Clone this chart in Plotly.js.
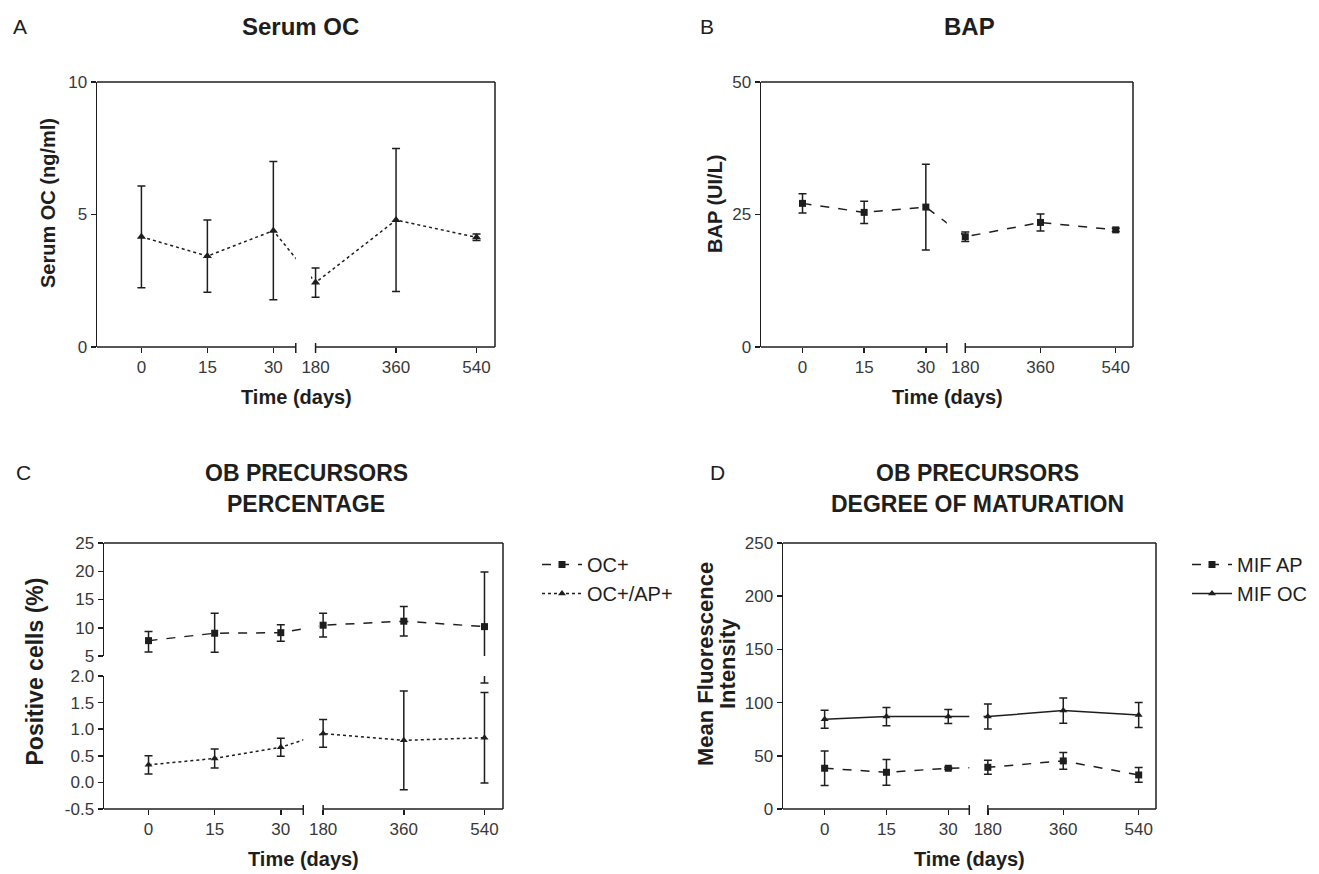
<!DOCTYPE html>
<html>
<head>
<meta charset="utf-8">
<script src="https://cdn.plot.ly/plotly-3.0.1.min.js"></script>
<style>
  html, body { margin: 0; padding: 0; background: #ffffff; }
  #chart { width: 1319px; height: 874px; }
</style>
</head>
<body>
<div id="chart"></div>
<script>
// ---------------- DATA ----------------
const days = [0, 15, 30, 180, 360, 540];
const dayLabels = ['0', '15', '30', '180', '360', '540'];

// Panel A : Serum OC (ng/ml)
const serumOC   = [4.16, 3.43, 4.39, 2.43, 4.79, 4.14];
const serumOCsd = [1.92, 1.36, 2.61, 0.55, 2.70, 0.12];

// Panel B : BAP (UI/L)
const bap   = [27.1, 25.4, 26.4, 20.8, 23.5, 22.1];
const bapSd = [1.8, 2.1, 8.1, 0.9, 1.6, 0.3];

// Panel C : OB precursors percentage
const ocPos       = [7.72, 9.03, 9.13, 10.45, 11.16, 10.2];
const ocPosSdUp   = [1.6, 3.55, 1.4, 2.1, 2.6, 9.65];
const ocPosSdDown = [2.0, 3.38, 1.5, 2.1, 2.6, 8.33];
const ocApPos     = [0.33, 0.45, 0.66, 0.92, 0.79, 0.84];
const ocApPosSd   = [0.17, 0.18, 0.17, 0.26, 0.93, 0.85];

// Panel D : OB precursors degree of maturation
const mifAP   = [38.3, 34.5, 38.3, 39.2, 45.2, 32.0];
const mifAPsd = [16.3, 12.1, 1.0, 6.6, 7.8, 6.9];
const mifOC   = [84.4, 86.9, 86.9, 86.9, 92.5, 88.4];
const mifOCsd = [8.5, 8.6, 6.5, 11.8, 11.8, 11.7];

// Tick labels
const yTicksA = [0, 5, 10];
const yTicksB = [0, 25, 50];
const yTicksCtop = [5, 10, 15, 20, 25];
const yTicksCbot = [-0.5, 0, 0.5, 1.0, 1.5, 2.0];
const yTicksCbotText = ['-0.5', '0.0', '0.5', '1.0', '1.5', '2.0'];
const yTicksD = [0, 50, 100, 150, 200, 250];

// ---------------- BROKEN TIME AXIS ----------------
// early days (0-30) on a linear scale, then a gap, then 180-540 compressed
const BRK = { gapStart: 35.1, gapEnd: 39.6, resume: 180, lateScale: 36.6 / 360, lo: -10.1, hi: 80.4, keep: 1.05 };
function brokenX(t) {
  return t < BRK.resume ? t : BRK.gapEnd + (t - BRK.resume) * BRK.lateScale;
}
const xPos = days.map(brokenX);

// ---------------- LAYOUT HELPERS ----------------
const W = 1319, H = 874;
const FONT = 'Liberation Sans, Arial, sans-serif';
const INK = '#1e1e1e';
const px = v => v / W;
const py = v => 1 - v / H;

const dom = {
  A:  { x: [px(97),  px(495)],  y: [py(347), py(82)] },
  B:  { x: [px(761), px(1133)], y: [py(347), py(82)] },
  Ct: { x: [px(104), px(503)],  y: [py(656), py(543)] },
  Cb: { x: [px(104), px(503)],  y: [py(809), py(676)] },
  D:  { x: [px(783), px(1156)], y: [py(809), py(543)] }
};

function xAxis(domain, anchor) {
  return {
    domain: domain, anchor: anchor, range: [BRK.lo, BRK.hi],
    showline: false, showgrid: false, zeroline: false,
    ticks: 'outside', ticklen: 5, tickwidth: 1.5, tickcolor: INK,
    tickmode: 'array', tickvals: xPos, ticktext: dayLabels,
    tickfont: { family: FONT, size: 17, color: '#383838' },
    fixedrange: true
  };
}
function yAxis(domain, anchor, range, tickvals, ticktext) {
  return {
    domain: domain, anchor: anchor, range: range,
    showline: true, linecolor: INK, linewidth: 1.5,
    showgrid: false, zeroline: false,
    ticks: 'outside', ticklen: 5, tickwidth: 1.5, tickcolor: INK,
    tickmode: 'array', tickvals: tickvals, ticktext: ticktext || tickvals.map(String),
    tickfont: { family: FONT, size: 17, color: '#383838' },
    fixedrange: true
  };
}

const LINE = { color: INK, width: 1.5 };
function frame(xr, yBot, yTopRef, yPaperBot, yPaperTop) {
  const xd = xr + ' domain';
  return [
    // blank the plotting area inside the axis break (leaving the 180-day marker intact)
    { type: 'rect', layer: 'above', xref: xr, x0: BRK.gapStart, x1: BRK.gapEnd - BRK.keep,
      yref: 'paper', y0: yPaperBot, y1: yPaperTop, fillcolor: '#ffffff', line: { width: 0 } },
    // bottom axis, two segments
    { type: 'line', layer: 'above', xref: xr, x0: BRK.lo, x1: BRK.gapStart,
      yref: yBot + ' domain', y0: 0, y1: 0, line: LINE },
    { type: 'line', layer: 'above', xref: xr, x0: BRK.gapEnd, x1: BRK.hi,
      yref: yBot + ' domain', y0: 0, y1: 0, line: LINE },
    // break end marks
    { type: 'line', layer: 'above', xref: xr, x0: BRK.gapStart, x1: BRK.gapStart,
      yref: yBot + ' domain', ysizemode: 'pixel', yanchor: 0, y0: -6, y1: 4, line: LINE },
    { type: 'line', layer: 'above', xref: xr, x0: BRK.gapEnd, x1: BRK.gapEnd,
      yref: yBot + ' domain', ysizemode: 'pixel', yanchor: 0, y0: -6, y1: 4, line: LINE },
    // top and right borders
    { type: 'line', layer: 'above', xref: xd, x0: 0, x1: 1,
      yref: yTopRef + ' domain', y0: 1, y1: 1, line: LINE },
    { type: 'line', layer: 'above', xref: xd, x0: 1, x1: 1,
      yref: 'paper', y0: yPaperBot, y1: yPaperTop, line: LINE }
  ];
}

function err(arr, minus) {
  const e = { type: 'data', array: arr, visible: true, color: INK, thickness: 1.5, width: 4 };
  if (minus) { e.symmetric = false; e.arrayminus = minus; }
  return e;
}

// ---------------- TRACES ----------------
const traces = [
  // A
  { x: xPos, y: serumOC, error_y: err(serumOCsd), mode: 'lines+markers',
    line: { color: INK, width: 1.5, dash: 'dot' },
    marker: { symbol: 'triangle-up', size: 8, color: INK },
    xaxis: 'x', yaxis: 'y', showlegend: false, name: 'Serum OC' },
  // B
  { x: xPos, y: bap, error_y: err(bapSd), mode: 'lines+markers',
    line: { color: INK, width: 1.5, dash: 'dash' },
    marker: { symbol: 'square', size: 7, color: INK },
    xaxis: 'x2', yaxis: 'y2', showlegend: false, name: 'BAP' },
  // C - OC+ (upper segment)
  { x: xPos, y: ocPos, error_y: err(ocPosSdUp, ocPosSdDown), mode: 'lines+markers',
    line: { color: INK, width: 1.5, dash: 'dash' },
    marker: { symbol: 'square', size: 7, color: INK },
    xaxis: 'x3', yaxis: 'y4', name: 'OC+', legend: 'legend' },
  // C - OC+ continued on lower segment (only its long error bar reaches it)
  { x: xPos, y: ocPos, error_y: err(ocPosSdUp, ocPosSdDown), mode: 'lines+markers',
    line: { color: INK, width: 1.5, dash: 'dash' },
    marker: { symbol: 'square', size: 7, color: INK },
    xaxis: 'x3', yaxis: 'y3', name: 'OC+', showlegend: false, hoverinfo: 'skip' },
  // C - OC+/AP+
  { x: xPos, y: ocApPos, error_y: err(ocApPosSd), mode: 'lines+markers',
    line: { color: INK, width: 1.5, dash: 'dot' },
    marker: { symbol: 'triangle-up', size: 7, color: INK },
    xaxis: 'x3', yaxis: 'y3', name: 'OC+/AP+', legend: 'legend' },
  // D - MIF AP
  { x: xPos, y: mifAP, error_y: err(mifAPsd), mode: 'lines+markers',
    line: { color: INK, width: 1.5, dash: 'dash' },
    marker: { symbol: 'square', size: 7, color: INK },
    xaxis: 'x4', yaxis: 'y5', name: 'MIF AP', legend: 'legend2' },
  // D - MIF OC
  { x: xPos, y: mifOC, error_y: err(mifOCsd), mode: 'lines+markers',
    line: { color: INK, width: 1.5, dash: 'solid' },
    marker: { symbol: 'triangle-up', size: 7, color: INK },
    xaxis: 'x4', yaxis: 'y5', name: 'MIF OC', legend: 'legend2' }
];

// ---------------- TEXT ----------------
function ann(text, x, y, size, opts) {
  const a = { xref: 'paper', yref: 'paper', x: px(x), y: py(y), xanchor: 'center', yanchor: 'middle',
              showarrow: false, text: text, font: { family: FONT, size: size, color: INK } };
  return Object.assign(a, opts || {});
}
const annotations = [
  ann('A', 20, 26, 21), ann('B', 707, 26, 21), ann('C', 23, 472, 21), ann('D', 717, 472, 21),
  ann('<b>Serum OC</b>', 300, 27, 24),
  ann('<b>BAP</b>', 969, 27, 24),
  ann('<b>OB PRECURSORS</b>', 306, 473, 23),
  ann('<b>PERCENTAGE</b>', 306, 504, 23),
  ann('<b>OB PRECURSORS</b>', 978, 473, 23),
  ann('<b>DEGREE OF MATURATION</b>', 978, 504, 23),
  ann('<b>Time (days)</b>', 296, 397, 20),
  ann('<b>Time (days)</b>', 947, 397, 20),
  ann('<b>Time (days)</b>', 303.5, 859, 20),
  ann('<b>Time (days)</b>', 969.5, 859, 20),
  ann('<b>Serum OC (ng/ml)</b>', 48, 203, 20, { textangle: -90 }),
  ann('<b>BAP (UI/L)</b>', 715, 204, 20, { textangle: -90 }),
  ann('<b>Positive cells (%)</b>', 34.5, 672, 23, { textangle: -90 }),
  ann('<b>Mean Fluorescence</b>', 705, 664, 22, { textangle: -90 }),
  ann('<b>Intensity</b>', 727, 664, 22, { textangle: -90 })
];

const legendStyle = {
  font: { family: FONT, size: 20, color: INK },
  bgcolor: 'rgba(0,0,0,0)', borderwidth: 0,
  xanchor: 'left', yanchor: 'top', itemwidth: 40,
  traceorder: 'normal', itemclick: false, itemdoubleclick: false
};

const layout = {
  width: W, height: H,
  margin: { l: 0, r: 0, t: 0, b: 0 },
  paper_bgcolor: '#ffffff', plot_bgcolor: '#ffffff',
  font: { family: FONT, color: INK },
  showlegend: true,
  legend:  Object.assign({ x: px(537), y: py(545) }, legendStyle),
  legend2: Object.assign({ x: px(1187), y: py(545) }, legendStyle),
  xaxis:  xAxis(dom.A.x, 'y'),
  yaxis:  yAxis(dom.A.y, 'x', [0, 10], yTicksA),
  xaxis2: xAxis(dom.B.x, 'y2'),
  yaxis2: yAxis(dom.B.y, 'x2', [0, 50], yTicksB),
  xaxis3: xAxis(dom.Cb.x, 'y3'),
  yaxis3: yAxis(dom.Cb.y, 'x3', [-0.5, 2.0], yTicksCbot, yTicksCbotText),
  yaxis4: yAxis(dom.Ct.y, 'x3', [5, 25], yTicksCtop),
  xaxis4: xAxis(dom.D.x, 'y5'),
  yaxis5: yAxis(dom.D.y, 'x4', [0, 250], yTicksD),
  shapes: [].concat(
    frame('x',  'y',  'y',  dom.A.y[0],  dom.A.y[1]),
    frame('x2', 'y2', 'y2', dom.B.y[0],  dom.B.y[1]),
    frame('x3', 'y3', 'y4', dom.Cb.y[0], dom.Ct.y[1]),
    frame('x4', 'y5', 'y5', dom.D.y[0],  dom.D.y[1])
  ),
  annotations: annotations
};

Plotly.newPlot('chart', traces, layout, { staticPlot: true, displayModeBar: false });
</script>
</body>
</html>
